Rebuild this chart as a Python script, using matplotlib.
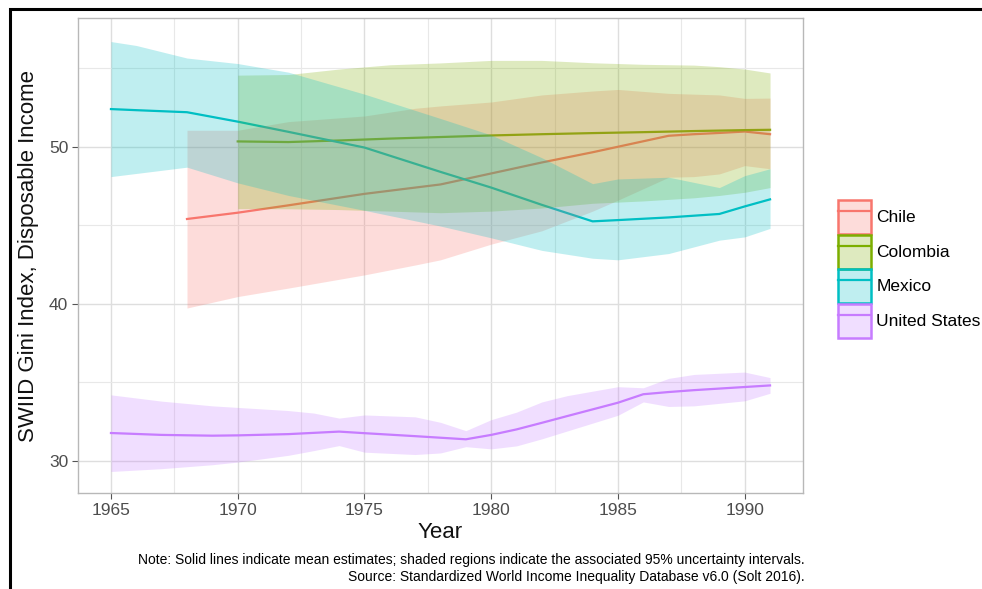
import matplotlib
matplotlib.use("Agg")
import matplotlib.pyplot as plt
from matplotlib.patches import Patch, Rectangle
from matplotlib.lines import Line2D
from matplotlib.legend_handler import HandlerTuple

plt.rcParams['font.family'] = ['Liberation Sans', 'DejaVu Sans']

# values (SWIID Gini, disposable income)
mexico_years = [1965, 1966, 1968, 1970, 1972, 1975, 1978, 1980, 1982, 1984, 1985, 1987, 1989, 1990, 1991]
mexico_mean = [52.4, 52.33, 52.2, 51.6, 50.95, 49.95, 48.4, 47.4, 46.3, 45.25, 45.33, 45.5, 45.72, 46.2, 46.65]
mexico_hi = [56.7, 56.45, 55.65, 55.3, 54.75, 53.35, 51.8, 50.75, 49.3, 47.65, 47.95, 48.06, 47.4, 48.16, 48.6]
mexico_lo = [48.1, 48.3, 48.7, 47.7, 46.9, 45.95, 44.95, 44.2, 43.4, 42.9, 42.8, 43.2, 44.05, 44.26, 44.8]

chile_years = [1968, 1970, 1972, 1975, 1977, 1978, 1980, 1982, 1984, 1985, 1987, 1988, 1989, 1990, 1991]
chile_mean = [45.4, 45.8, 46.27, 47.0, 47.4, 47.6, 48.3, 49.0, 49.65, 50.0, 50.7, 50.8, 50.88, 50.97, 50.8]
chile_hi = [51.05, 51.05, 51.6, 51.96, 52.45, 52.6, 52.85, 53.3, 53.55, 53.65, 53.4, 53.35, 53.3, 53.08, 53.1]
chile_lo = [39.73, 40.46, 41.0, 41.84, 42.47, 42.8, 43.8, 44.65, 45.9, 46.6, 48.06, 48.1, 48.27, 48.8, 48.6]

colombia_years = [1970, 1972, 1974, 1976, 1978, 1980, 1982, 1984, 1986, 1988, 1989, 1990, 1991]
colombia_mean = [50.34, 50.3, 50.4, 50.52, 50.62, 50.72, 50.8, 50.87, 50.93, 51.0, 51.03, 51.06, 51.08]
colombia_hi = [54.56, 54.6, 54.95, 55.22, 55.34, 55.5, 55.5, 55.35, 55.25, 55.2, 55.1, 54.95, 54.7]
colombia_lo = [46.06, 46.05, 46.0, 45.9, 45.8, 45.9, 46.1, 46.4, 46.55, 46.75, 46.9, 47.1, 47.4]

us_years = [1965, 1967, 1969, 1970, 1972, 1973, 1974, 1975, 1977, 1978, 1979, 1980, 1981, 1982,
            1983, 1985, 1986, 1987, 1988, 1990, 1991]
us_mean = [31.77, 31.65, 31.6, 31.62, 31.7, 31.78, 31.86, 31.76, 31.57, 31.47, 31.37, 31.65, 32.0, 32.42,
           32.85, 33.7, 34.24, 34.38, 34.5, 34.7, 34.8]
us_hi = [34.2, 33.8, 33.5, 33.4, 33.2, 33.04, 32.72, 32.92, 32.8, 32.45, 31.92, 32.62, 33.1, 33.75,
         34.15, 34.72, 34.65, 35.25, 35.5, 35.65, 35.3]
us_lo = [29.32, 29.5, 29.75, 29.92, 30.35, 30.65, 30.97, 30.55, 30.4, 30.5, 30.9, 30.76, 30.95, 31.4,
         31.9, 32.9, 33.75, 33.46, 33.5, 33.82, 34.3]

countries = ['Chile', 'Colombia', 'Mexico', 'United States']
colors = ['#F8766D', '#7CAE00', '#00BFC4', '#C77CFF']
series = [
    (chile_years, chile_mean, chile_lo, chile_hi),
    (colombia_years, colombia_mean, colombia_lo, colombia_hi),
    (mexico_years, mexico_mean, mexico_lo, mexico_hi),
    (us_years, us_mean, us_lo, us_hi),
]

fig = plt.figure(figsize=(9.82, 5.89), dpi=100)
ax = fig.add_axes([78/982, 1-493/589, (803-78)/982, (493-18)/589])

# lines first, ribbons painted over them (as in the original)
for (yrs, mean, lo, hi), col in zip(series, colors):
    ax.plot(yrs, mean, color=col, lw=1.6, zorder=2)
for (yrs, mean, lo, hi), col in zip(series, colors):
    ax.fill_between(yrs, lo, hi, color=col, alpha=0.25, lw=0, zorder=2.5)

ax.set_xlim(1963.7, 1992.3)
ax.set_ylim(27.95, 58.2)
ax.set_xticks([1965, 1970, 1975, 1980, 1985, 1990])
ax.set_yticks([30, 40, 50])
ax.set_xticks([1967.5, 1972.5, 1977.5, 1982.5, 1987.5], minor=True)
ax.set_yticks([35, 45, 55], minor=True)
ax.set_axisbelow(True)
ax.grid(which='major', color='#dedede', lw=1.0)
ax.grid(which='minor', color='#e8e8e8', lw=0.8)
for sp in ax.spines.values():
    sp.set_color('#b8b8b8')
    sp.set_linewidth(1.0)
ax.tick_params(which='major', length=4, width=0.8, color='#555555', labelcolor='#4d4d4d',
               labelsize=12.5, pad=3)
ax.tick_params(which='minor', length=0)

ax.set_xlabel('Year', fontsize=16, color='#111111', labelpad=3)
ax.set_ylabel('SWIID Gini Index, Disposable Income', fontsize=16, color='#111111', labelpad=7)

fig.text(805/982, 1-560/589, 'Note: Solid lines indicate mean estimates; shaded regions indicate the '
         'associated 95% uncertainty intervals.', ha='right', va='center', fontsize=10)
fig.text(805/982, 1-577/589, 'Source: Standardized World Income Inequality Database v6.0 (Solt 2016).',
         ha='right', va='center', fontsize=10)

handles = []
for col in colors:
    p = Patch(facecolor=matplotlib.colors.to_rgba(col, 0.25), edgecolor=col, lw=1.8)
    handles.append((p, Line2D([], [], color=col, lw=1.6)))
fig.legend(handles, countries, loc='center left', bbox_to_anchor=(826/982, 1-269/589),
           frameon=False, fontsize=12.5, handlelength=1.87, handleheight=2.65, labelspacing=0.02,
           handletextpad=0.33, borderpad=0.2,
           handler_map={tuple: HandlerTuple(ndivide=1, pad=0)})

# black frame of the screenshot
fig.add_artist(Rectangle((9.5/982, -0.1), 1.2, 1.1 - 9.5/589, transform=fig.transFigure,
                         fill=False, edgecolor='black', lw=2.2, clip_on=False))

fig.savefig('out.png', dpi=100)
